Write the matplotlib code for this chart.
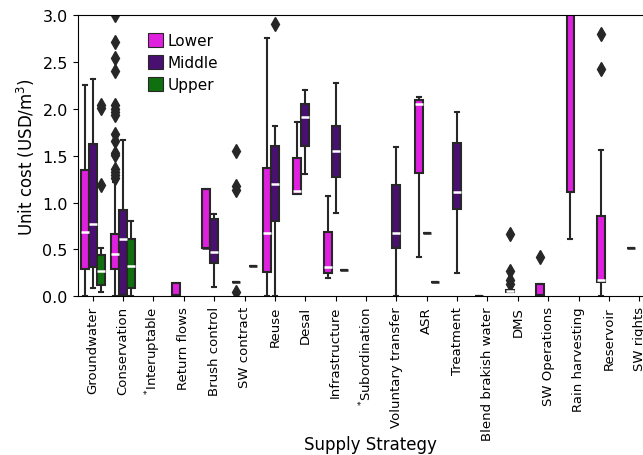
import matplotlib
matplotlib.use("Agg")
import matplotlib.pyplot as plt
from matplotlib.patches import Patch

categories = ["Groundwater", "Conservation", "$^{\\mathrm{*}}$Interuptable", "Return flows",
              "Brush control", "SW contract", "Reuse", "Desal", "Infrastructure",
              "$^{\\mathrm{*}}$Subordination", "Voluntary transfer", "ASR", "Treatment",
              "Blend brakish water", "DMS", "SW Operations", "Rain harvesting",
              "Reservoir", "SW rights"]
hues = ["Lower", "Middle", "Upper"]

# (whislo, q1, med, q3, whishi) per category, None = no data
lower_stats = [
    (0.0, 0.29, 0.69, 1.35, 2.25),
    (0.0, 0.29, 0.45, 0.66, 1.22),
    None,
    (0.01, 0.01, 0.01, 0.14, 0.14),
    (0.51, 0.51, 0.51, 1.14, 1.14),
    (0.15, 0.15, 0.15, 0.15, 0.15),
    (0.0, 0.26, 0.67, 1.37, 2.76),
    (1.09, 1.09, 1.12, 1.48, 1.86),
    (0.20, 0.25, 0.31, 0.69, 1.07),
    None,
    None,
    (0.42, 1.32, 2.05, 2.09, 2.13),
    None,
    (0.005, 0.005, 0.005, 0.005, 0.005),
    (0.05, 0.05, 0.06, 0.07, 0.07),
    (0.01, 0.01, 0.01, 0.13, 0.13),
    (0.61, 1.11, 3.3, 3.6, 4.0),
    (0.0, 0.15, 0.17, 0.86, 1.56),
    (0.51, 0.51, 0.51, 0.51, 0.51),
]
middle_stats = [
    (0.09, 0.31, 0.77, 1.62, 2.32),
    (0.0, 0.01, 0.61, 0.92, 1.67),
    None, None,
    (0.10, 0.36, 0.47, 0.82, 0.88),
    None,
    (0.0, 0.80, 1.20, 1.60, 1.82),
    (1.30, 1.60, 1.91, 2.05, 2.20),
    (0.89, 1.27, 1.55, 1.82, 2.28),
    None,
    (0.0, 0.51, 0.67, 1.19, 1.59),
    (0.67, 0.67, 0.67, 0.67, 0.67),
    (0.25, 0.93, 1.11, 1.64, 1.97),
    None, None, None, None, None, None,
]
upper_stats = [
    (0.05, 0.12, 0.27, 0.44, 0.52),
    (0.0, 0.09, 0.32, 0.61, 0.80),
    None, None, None,
    (0.32, 0.32, 0.32, 0.32, 0.32),
    None, None,
    (0.28, 0.28, 0.28, 0.28, 0.28),
    None, None,
    (0.15, 0.15, 0.15, 0.15, 0.15),
    None, None, None, None, None, None, None,
]
# outliers: {category index: [values]}
lower_fliers = {
    1: [3.0, 2.71, 2.54, 2.40, 2.04, 2.00, 1.97, 1.93, 1.73, 1.66, 1.53, 1.51,
        1.36, 1.33, 1.29, 1.26],
    5: [1.55, 1.18, 1.13, 0.05],
    14: [0.66, 0.27, 0.17, 0.13],
    15: [0.42],
    17: [2.80, 2.42],
}
middle_fliers = {6: [2.90]}
upper_fliers = {0: [2.04, 2.01, 1.19]}

colors = ["#df20df", "#491072", "#107010"]
gray = "#272727"

fig = plt.figure(figsize=(6.43, 4.56), dpi=100)
ax = fig.add_axes([77.5 / 643, 1 - 297.3 / 456, (654.5 - 77.5) / 643, (297.3 - 16) / 456])

all_stats = [lower_stats, middle_stats, upper_stats]
all_fliers = [lower_fliers, middle_fliers, upper_fliers]
nest = 0.8 / 3
for h in range(3):
    stats, pos = [], []
    for i, s in enumerate(all_stats[h]):
        if s is None:
            continue
        wl, q1, med, q3, wh = s
        stats.append(dict(whislo=wl, q1=q1, med=med, q3=q3, whishi=wh,
                          fliers=all_fliers[h].get(i, [])))
        pos.append(i + (h - 1) * nest)
    res = ax.bxp(stats, positions=pos, widths=nest * 0.98, patch_artist=True,
                 manage_ticks=False,
                 boxprops=dict(facecolor=colors[h], edgecolor=gray, linewidth=1.5),
                 medianprops=dict(color="white", linewidth=1.8),
                 whiskerprops=dict(color=gray, linewidth=1.5),
                 capprops=dict(color=gray, linewidth=1.5),
                 flierprops=dict(marker="d", markerfacecolor=gray, markeredgecolor=gray,
                                 markersize=7, linestyle="none"))
    for st, ml in zip(stats, res["medians"]):
        if st["med"] == st["q1"] or st["med"] == st["q3"]:
            ml.set_color(gray)

ax.set_xlim(-0.5, len(categories) - 0.5)
ax.set_ylim(0, 3.0)
ax.set_xticks(range(len(categories)))
ax.set_xticklabels(categories, rotation=90, fontsize=9.5)
ax.set_yticks([0, 0.5, 1.0, 1.5, 2.0, 2.5, 3.0])
ax.set_yticklabels(["0.0", "0.5", "1.0", "1.5", "2.0", "2.5", "3.0"], fontsize=11.5)
ax.set_ylabel("Unit cost (USD/m$^3$)", fontsize=12)
ax.set_xlabel("Supply Strategy", fontsize=12)
ax.xaxis.set_label_coords((370 - 77.5) / 577, (297.3 - 436) / 281.3)

handles = [Patch(facecolor=c, edgecolor=gray, linewidth=0.8, label=l) for c, l in zip(colors, hues)]
ax.legend(handles=handles, loc="upper left", bbox_to_anchor=(0.098, 0.985), frameon=False,
          fontsize=11, handlelength=1.0, handleheight=1.0, handletextpad=0.3,
          labelspacing=0.45)

fig.savefig("out.png", dpi=100)
